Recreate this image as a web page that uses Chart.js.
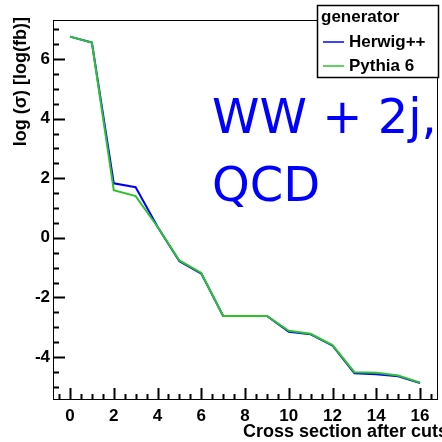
<!DOCTYPE html>
<html>
<head>
<meta charset="utf-8">
<script src="https://cdn.jsdelivr.net/npm/chart.js@4"></script>
<style>
  html, body { margin: 0; padding: 0; background: #fff; }
  canvas { display: block; }
</style>
</head>
<body>
<canvas id="myChart" width="442" height="442"></canvas>
<script>
var cuts = [0, 1, 2, 3, 4, 5, 6, 7, 8, 9, 10, 11, 12, 13, 14, 15, 16];
var herwig = [6.75, 6.55, 1.83, 1.70, 0.37, -0.79, -1.20, -2.62, -2.62, -2.62, -3.15, -3.24, -3.62, -4.55, -4.58, -4.65, -4.87];
var pythia = [6.75, 6.55, 1.60, 1.40, 0.37, -0.76, -1.18, -2.62, -2.62, -2.62, -3.12, -3.22, -3.60, -4.51, -4.53, -4.62, -4.86];
var seriesNames = ['Herwig++', 'Pythia 6'];
var seriesColors = ['#0000ff', '#2ec22e'];
var legendTitle = 'generator';
var xTitle = 'Cross section after cuts';
var yTitle = 'log (\u03c3) [log(fb)]';
var labelLines = ['WW + 2j,', 'QCD'];

function toPoints(vals) {
  return cuts.map((c, i) => ({ x: c, y: vals[i] }));
}

var rootLook = {
  id: 'rootLook',
  afterDraw: function(chart) {
    var ctx = chart.ctx;
    var a = chart.chartArea;
    var xs = chart.scales.x, ys = chart.scales.y;
    ctx.save();

    // big blue label
    ctx.fillStyle = '#0000ff';
    ctx.font = '48px "DejaVu Sans", sans-serif';
    ctx.textAlign = 'left';
    ctx.textBaseline = 'alphabetic';
    ctx.fillText(labelLines[0], 212, 133);
    ctx.fillText(labelLines[1], 212, 201);

    // frame
    ctx.strokeStyle = '#000';
    ctx.lineWidth = 1;
    ctx.strokeRect(a.left + 0.5, a.top + 0.5, a.right - a.left - 1, a.bottom - a.top - 1);

    // ticks inside frame
    ctx.lineWidth = 2;
    ctx.beginPath();
    for (var v = -5; v <= 7.01; v += 0.5) {
      var py = Math.round(ys.getPixelForValue(v)) + 0.5;
      if (py < a.top || py > a.bottom) continue;
      var len = (Math.abs(v % 2) < 0.01) ? 12 : 6;
      ctx.moveTo(a.left, py);
      ctx.lineTo(a.left + len, py);
    }
    for (var u = -0.5; u <= 16.51; u += 0.5) {
      var px = Math.round(xs.getPixelForValue(u)) + 0.5;
      if (px < a.left || px > a.right) continue;
      var l2 = (Math.abs(u % 2) < 0.01) ? 12 : 6;
      ctx.moveTo(px, a.bottom);
      ctx.lineTo(px, a.bottom - l2);
    }
    ctx.stroke();

    // axis titles
    ctx.fillStyle = '#000';
    ctx.font = 'bold 18px "Liberation Sans", Arial, sans-serif';
    ctx.textAlign = 'left';
    ctx.fillText(xTitle, 243, 437);

    ctx.save();
    ctx.translate(26, 17);
    ctx.rotate(-Math.PI / 2);
    ctx.font = 'bold 18px "Liberation Sans", Arial, sans-serif';
    ctx.textAlign = 'right';
    ctx.fillText(yTitle, 0, 0);
    ctx.restore();

    // legend box
    var lx = 317, ly = 5, lw = 121, lh = 72;
    ctx.fillStyle = '#fff';
    ctx.fillRect(lx, ly, lw, lh);
    ctx.lineWidth = 1.5;
    ctx.strokeStyle = '#000';
    ctx.strokeRect(lx + 0.5, ly + 0.5, lw, lh);
    ctx.fillStyle = '#000';
    ctx.font = 'bold 17px "Liberation Sans", Arial, sans-serif';
    ctx.textAlign = 'left';
    ctx.textBaseline = 'middle';
    ctx.fillText(legendTitle, 321, 17);
    for (var k = 0; k < seriesNames.length; k++) {
      var yy = 42 + k * 24;
      ctx.strokeStyle = seriesColors[k];
      ctx.lineWidth = 1.5;
      ctx.beginPath();
      ctx.moveTo(323, yy);
      ctx.lineTo(344, yy);
      ctx.stroke();
      ctx.fillStyle = '#000';
      ctx.fillText(seriesNames[k], 349, yy);
    }
    ctx.restore();
  }
};

var ctx = document.getElementById('myChart').getContext('2d');
var myChart = new Chart(ctx, {
  type: 'line',
  data: {
    datasets: [{
      label: seriesNames[0],
      data: toPoints(herwig),
      borderColor: seriesColors[0],
      borderWidth: 2,
      pointRadius: 0,
      tension: 0,
      order: 1
    }, {
      label: seriesNames[1],
      data: toPoints(pythia),
      borderColor: seriesColors[1],
      borderWidth: 2,
      pointRadius: 0,
      tension: 0,
      order: 0
    }]
  },
  options: {
    responsive: false,
    animation: false,
    events: [],
    layout: { padding: { top: 20, right: 4, left: 0, bottom: 0 } },
    plugins: { legend: { display: false }, tooltip: { enabled: false } },
    scales: {
      x: {
        type: 'linear',
        min: -0.777,
        max: 16.82,
        afterFit: function(s) { s.height = 42; },
        afterBuildTicks: function(s) { s.ticks = cuts.filter(c => c % 2 === 0).map(c => ({ value: c })); },
        grid: { display: false, drawTicks: false },
        border: { display: false },
        ticks: { color: '#000', font: { family: '"Liberation Sans", Arial, sans-serif', size: 17, weight: 'bold' }, padding: 6, maxRotation: 0, autoSkip: false }
      },
      y: {
        min: -5.443,
        max: 7.309,
        afterFit: function(s) { s.width = 53; },
        afterBuildTicks: function(s) { s.ticks = [-4, -2, 0, 2, 4, 6].map(v => ({ value: v })); },
        grid: { display: false, drawTicks: false },
        border: { display: false },
        ticks: { color: '#000', font: { family: '"Liberation Sans", Arial, sans-serif', size: 17, weight: 'bold' }, padding: 3 }
      }
    }
  },
  plugins: [rootLook]
});
</script>
</body>
</html>
